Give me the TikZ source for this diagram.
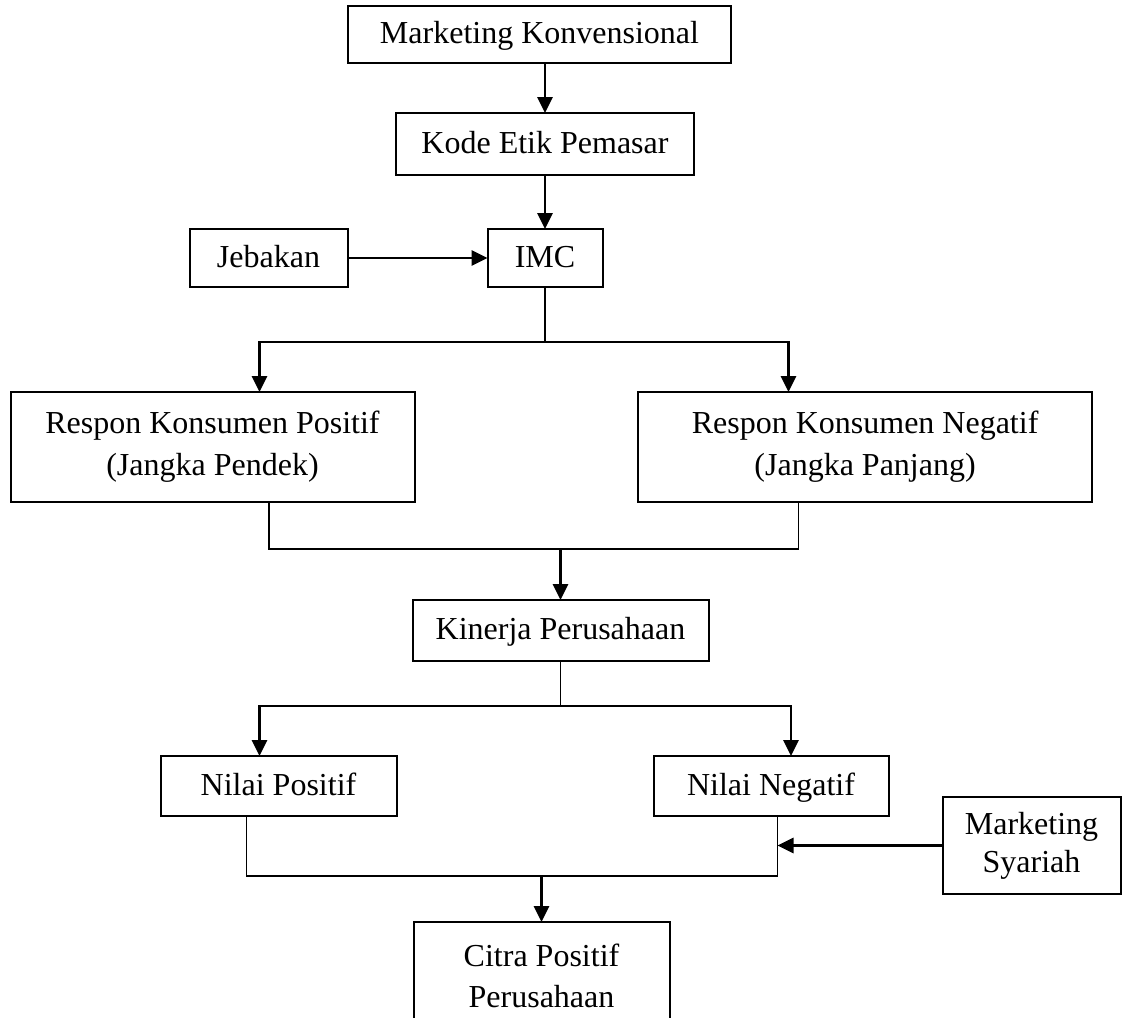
\documentclass[tikz,border=0pt]{standalone}
\usepackage{fontspec}
\setmainfont{Liberation Serif}
\usetikzlibrary{arrows.meta,positioning}
\tikzset{
    flowbox/.style={draw, line width=1pt, align=center, inner sep=0pt, outer sep=0pt,
        font=\fontsize{16pt}{21pt}\selectfont},
    oneline/.style={text height=12pt, text depth=3pt},
    flowarrow/.style={-{Triangle[length=8pt, width=7.5pt]}, line width=1.4pt},
    flowline/.style={line width=0.8pt}
}

\begin{document}
\begin{tikzpicture}[
    node distance=25pt,
    boxdim/.style 2 args={minimum width=#1, minimum height=#2}
]
\useasboundingbox (0,0) rectangle (561.5pt,-508.5pt);
\node[flowbox, oneline, boxdim={191.5pt}{28.5pt}] (mk) at (269.75pt,-17.25pt) {Marketing Konvensional};
\node[flowbox, oneline, boxdim={149pt}{31pt}, below=25pt of mk, xshift=2.75pt] (kode) {Kode Etik Pemasar};
\node[flowbox, oneline, boxdim={57.5pt}{29pt}, below=27pt of kode] (imc) {IMC};
\node[flowbox, oneline, boxdim={79pt}{29pt}, left=70pt of imc] (jebakan) {Jebakan};
\node[flowbox, boxdim={202pt}{55pt}, below left=52.5pt and 36.5pt of imc] (rpos) {Respon Konsumen Positif\\(Jangka Pendek)};
\node[flowbox, boxdim={227pt}{55pt}, below right=52.5pt and 17.8pt of imc] (rneg) {Respon Konsumen Negatif\\(Jangka Panjang)};
\node[flowbox, oneline, boxdim={148pt}{30.5pt}, below right=49pt and -1pt of rpos] (kinerja) {Kinerja Perusahaan};
\node[flowbox, oneline, boxdim={118pt}{30pt}, below left=47.5pt and 8pt of kinerja] (npos) {Nilai Positif};
\node[flowbox, oneline, boxdim={117.5pt}{30pt}, below right=47.5pt and -27.5pt of kinerja] (nneg) {Nilai Negatif};
\node[flowbox, boxdim={89pt}{48.5pt}, right=27pt of nneg, yshift=-29.75pt,
    font=\fontsize{16pt}{19pt}\selectfont] (syariah) {Marketing\\Syariah};
\node[flowbox, boxdim={128pt}{54pt}, below right=53pt and 8.5pt of npos,
    font=\fontsize{16pt}{20.5pt}\selectfont] (citra) {Citra Positif\\Perusahaan};

% junctions
\coordinate[below=27.5pt of imc] (split1);
\coordinate[above=25.5pt of kinerja] (merge1);
\coordinate[below=22.5pt of kinerja] (split2);
\coordinate[above=23pt of citra] (merge2);
\coordinate (nneg-out) at ([xshift=3.25pt]nneg.south);

\draw[flowarrow] (mk.south -| kode.north) -- (kode.north);
\draw[flowarrow] (kode) -- (imc);
\draw[flowarrow] (jebakan) -- (imc);
\draw[flowline] (imc) -- (split1);
\draw[flowarrow] (split1) -| ([xshift=23.5pt]rpos.north);
\draw[flowarrow] (split1) -| ([xshift=-38.3pt]rneg.north);
\draw[flowline] ([xshift=28.3pt]rpos.south) |- (merge1) -| ([xshift=-33.3pt]rneg.south);
\draw[flowarrow] (merge1) -- (kinerja);
\draw[flowline] (kinerja) -- (split2);
\draw[flowarrow] (split2) -| ([xshift=-9.5pt]npos.north);
\draw[flowarrow] (split2) -| ([xshift=10pt]nneg.north);
\draw[flowline] ([xshift=-16pt]npos.south) |- (merge2) -| (nneg-out);
\draw[flowarrow] (syariah) -- (syariah -| nneg-out);
\draw[flowarrow] (merge2) -- (citra);
\end{tikzpicture}
\end{document}
